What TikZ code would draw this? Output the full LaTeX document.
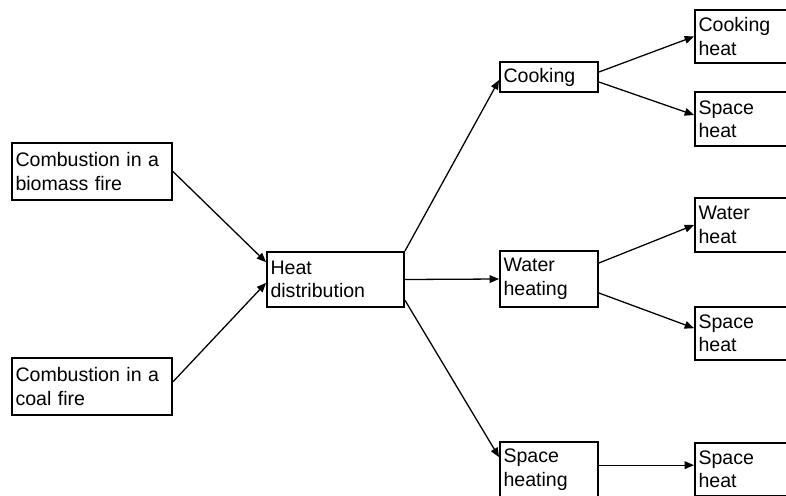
\documentclass[tikz,border=0pt]{standalone}
\usepackage{fontspec}
\setmainfont{Liberation Sans}
\usetikzlibrary{arrows.meta}

\tikzset{
	box/.style={draw=black, line width=1.6pt, inner sep=3pt, align=left, font=\fontsize{16.7}{20}\selectfont},
	srcbox/.style={box, text width=4.8cm-6pt, minimum height=1.71cm},
	distbox/.style={box, text width=4.11cm-6pt, minimum height=1.65cm},
	usebox/.style={box, text width=2.94cm-6pt},
	outbox/.style={box, text width=3.3cm-6pt, minimum height=1.6cm},
	arr/.style={-{Triangle[length=8pt,width=6.5pt]}, line width=1.1pt}
}

\begin{document}
\begin{tikzpicture}[x=0.03cm, y=-0.03cm]
	
	\clip (0, 0) rectangle (786, 495);
	
	\node[srcbox] (bio)  at (92, 171.5)    {Combustion in a\\biomass fire};
	\node[srcbox] (coal) at (92, 386.5)    {Combustion in a\\coal fire};
	\node[distbox] (dist) at (335.5, 279.5) {Heat\\distribution};
	
	\node[usebox, minimum height=0.9cm]  (cook)  at (549, 77)    {Cooking};
	\node[usebox, minimum height=1.68cm] (water) at (549, 279)   {Water\\heating};
	\node[usebox, minimum height=1.65cm] (space) at (549, 469.5) {Space\\heating};
	
	\node[outbox] (cookh) at (750, 36.5)  {Cooking\\heat};
	\node[outbox] (spcA)  at (750, 119)   {Space\\heat};
	\node[outbox] (wath)  at (750, 225)   {Water\\heat};
	\node[outbox] (spcB)  at (750, 333.5) {Space\\heat};
	\node[outbox] (spcC)  at (750, 469.5) {Space\\heat};
	
	\path[arr] (bio.east) edge ([yshift=0.52cm]dist.west);
	\path[arr] ([yshift=0.14cm]coal.east) edge ([yshift=-0.1cm]dist.west);
	
	\path[arr] (dist.north east) edge ([yshift=-0.09cm]cook.west);
	\path[arr] (dist.east) edge (water.west);
	\path[arr] ([yshift=-0.62cm]dist.east) edge ([yshift=0.37cm]space.west);
	
	\path[arr] ([yshift=0.15cm]cook.east) edge (cookh.west);
	\path[arr] ([yshift=-0.15cm]cook.east) edge ([yshift=0.12cm]spcA.west);
	\path[arr] ([yshift=0.48cm]water.east) edge (wath.west);
	\path[arr] ([yshift=-0.42cm]water.east) edge ([yshift=0.16cm]spcB.west);
	\path[arr] ([yshift=0.13cm]space.east) edge ([yshift=0.13cm]spcC.west);
	
\end{tikzpicture}
\end{document}
